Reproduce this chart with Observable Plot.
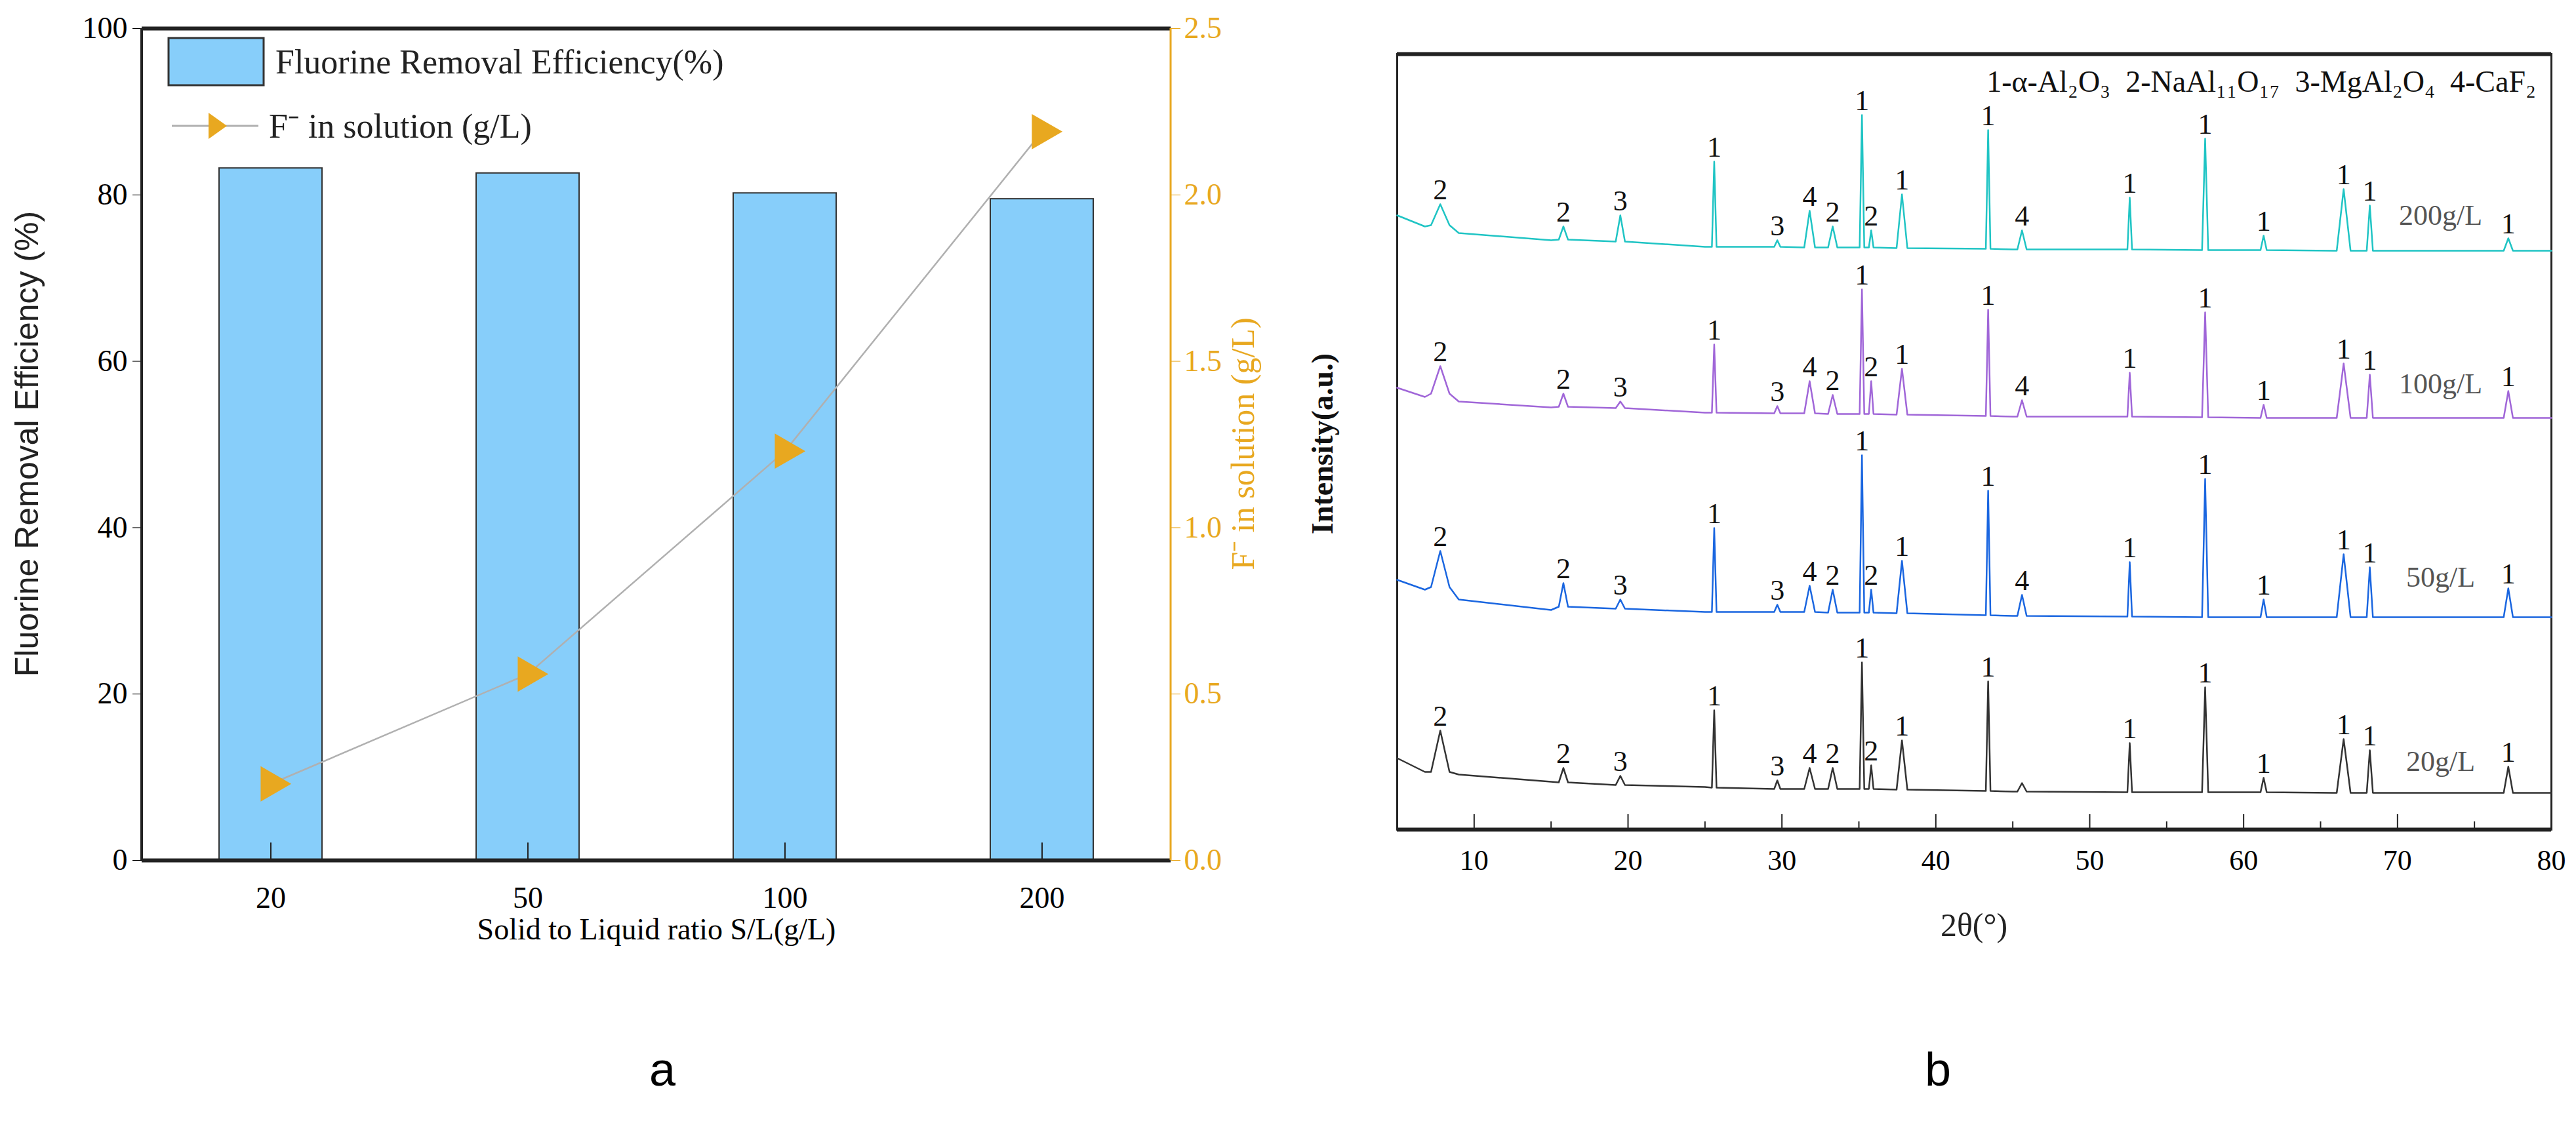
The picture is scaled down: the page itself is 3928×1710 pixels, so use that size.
<!DOCTYPE html>
<html><head><meta charset="utf-8">
<script src="https://cdn.jsdelivr.net/npm/d3@7"></script>
<script src="https://cdn.jsdelivr.net/npm/@observablehq/plot@0.6"></script>
<style>
body{margin:0;background:#fff;width:3928px;height:1710px;position:relative;overflow:hidden;font-family:"Liberation Serif",serif}
.pan{position:absolute;top:0}
.lab{position:absolute;font-family:"Liberation Sans",Arial,sans-serif;font-size:72px}
</style></head><body>
<div id="a" class="pan" style="left:0"></div>
<div id="b" class="pan" style="left:1960px"></div>
<div class="lab" style="left:990px;top:1590px">a</div>
<div class="lab" style="left:2935px;top:1590px">b</div>
<script>
// ---- Panel a data
const ratios = ["20","50","100","200"];
const efficiency = [83.2, 82.6, 80.2, 79.5];
const fluoride = [0.23, 0.56, 1.23, 2.19];
const leftTicks = [0,20,40,60,80,100];
const rightTicks = [0,0.5,1.0,1.5,2.0,2.5];
const orange = "#e8a820";
const K = 40; // right-axis factor 2.5 -> 100

const barsData = ratios.map((r,i)=>({r, v:efficiency[i]}));
const lineData = ratios.map((r,i)=>({r, v:fluoride[i]*K}));
const serif = "Liberation Serif";

const pa = Plot.plot({
  width:1960, height:1480, marginLeft:216, marginRight:175, marginTop:43, marginBottom:168,
  style:{fontFamily:serif, fontSize:"46px", background:"#fff"},
  x:{domain:ratios, type:"band", paddingInner:0.6, paddingOuter:0.3, axis:null},
  y:{domain:[0,100], axis:null},
  marks:[
    Plot.barY(barsData,{x:"r", y:"v", fill:"#87cefa", stroke:"#333", strokeWidth:2}),
    Plot.ruleX(ratios,{x:d=>d, y1:0, y2:2.1, stroke:"#222", strokeWidth:2}),
    Plot.axisX({ticks:ratios, tickSize:0, tickPadding:40, fontSize:46, label:"Solid to Liquid ratio S/L(g/L)", labelAnchor:"center", labelOffset:120}),
    Plot.axisY({ticks:leftTicks, tickSize:14, tickWidth:3, tickPadding:8, fontSize:46, label:null}),
    Plot.axisY({anchor:"right", ticks:rightTicks.map(t=>t*K), tickFormat:d=>(d/K).toFixed(1), tickSize:14, tickPadding:6, fontSize:46, color:orange, stroke:orange, label:null}),
    Plot.ruleY([0],{stroke:"#222", strokeWidth:6}),
    Plot.ruleY([100],{stroke:"#222", strokeWidth:6}),
    Plot.line(lineData,{x:"r", y:"v", stroke:"#b0b0b0", strokeWidth:2.5}),
    Plot.dot(lineData,{x:"r", y:"v", symbol:"triangle", r:20, fill:orange, stroke:"none", rotate:90})
  ]
});
document.getElementById("a").appendChild(pa);
{
  const s = d3.select(pa);
  s.append("line").attr("x1",216).attr("x2",216).attr("y1",43).attr("y2",1312).attr("stroke","#222").attr("stroke-width",4);
  s.append("line").attr("x1",1785).attr("x2",1785).attr("y1",43).attr("y2",1312).attr("stroke",orange).attr("stroke-width",3);
  s.append("text").attr("transform","translate(58,677) rotate(-90)").attr("text-anchor","middle")
    .attr("font-family","Liberation Sans").attr("font-size",50).attr("fill","#222").text("Fluorine Removal Efficiency (%)");
  s.append("text").attr("transform","translate(1912,677) rotate(-90)").attr("text-anchor","middle")
    .attr("font-family",serif).attr("font-size",50).attr("fill",orange).text("F⁻ in solution (g/L)");
  s.append("rect").attr("x",257).attr("y",58).attr("width",145).attr("height",72).attr("fill","#87cefa").attr("stroke","#333").attr("stroke-width",3);
  s.append("text").attr("x",420).attr("y",112).attr("text-anchor","start").attr("font-family",serif).attr("font-size",52).attr("fill","#222").text("Fluorine Removal Efficiency(%)");
  s.append("line").attr("x1",262).attr("x2",394).attr("y1",192).attr("y2",192).attr("stroke","#b0b0b0").attr("stroke-width",3);
  s.append("path").attr("d","M318,172 L346,192 L318,212 Z").attr("fill",orange);
  s.append("text").attr("x",410).attr("y",210).attr("text-anchor","start").attr("font-family",serif).attr("font-size",52).attr("fill","#222").text("F⁻ in solution (g/L)");
}

// ---- Panel b data (intensity in arbitrary units)
const peakPos   = [7.8,15.8,19.5,25.6,29.7,31.8,33.3,35.2,35.8,37.8,43.4,45.6,52.6,57.5,61.3,66.5,68.2,77.2];
const peakWidth = [0.6,0.3,0.3,0.15,0.2,0.35,0.3,0.15,0.15,0.35,0.15,0.3,0.15,0.2,0.2,0.45,0.2,0.3];
const peakLabels= ["2","2","3","1","3","4","2","1","2","1","1","4","1","1","1","1","1","1"];
const anchorPos = [5,6.8,9,15,25,45,80];

const top20 = [151,94,82,182,75,94,94,255,98,136,226,71,132,217,79,138,121,96];
const foot20= [88,72,68,64,62,62,62,62,62,61,59,58,57,57,57,56,56,56];
const base20= [109,88,84,73,65,58,56];
const top50 = [425,376,351,460,343,372,366,571,366,410,517,358,408,535,351,420,400,368];
const foot50= [370,340,337,332,332,332,331,331,331,330,327,326,325,324,324,324,324,324];
const base50= [381,366,351,335,332,326,324];
const top100= [707,665,653,740,646,684,663,824,684,703,793,655,697,789,648,711,694,669];
const foot100=[665,645,643,636,635,635,634,634,634,633,631,630,630,629,628,628,628,628];
const base100=[674,660,653,644,636,630,628];
const top200= [954,920,937,1019,899,944,920,1090,914,969,1067,914,964,1054,906,977,952,902];
const foot200=[922,900,897,889,889,888,888,888,888,887,886,885,885,884,884,883,883,883];
const base200=[937,920,910,899,889,885,883];

const series = [
  {name:"20g/L", color:"#333333", top:top20, foot:foot20, base:base20, show:peakLabels.map((l,i)=>i!==11), labelY:104},
  {name:"50g/L", color:"#1a66e0", top:top50, foot:foot50, base:base50, show:peakLabels.map(()=>true), labelY:385},
  {name:"100g/L", color:"#a066d8", top:top100, foot:foot100, base:base100, show:peakLabels.map(()=>true), labelY:680},
  {name:"200g/L", color:"#1fc4c4", top:top200, foot:foot200, base:base200, show:peakLabels.map(()=>true), labelY:937}
];
const pts = [], labs = [];
series.forEach(s=>{
  anchorPos.forEach((x,i)=>pts.push({s:s.name, x, y:s.base[i]}));
  peakPos.forEach((x,i)=>{
    pts.push({s:s.name, x:x-peakWidth[i], y:s.foot[i]});
    pts.push({s:s.name, x, y:s.top[i]});
    pts.push({s:s.name, x:x+peakWidth[i], y:s.foot[i]});
    if (s.show[i]) labs.push({x, y:s.top[i], t:peakLabels[i]});
  });
});
pts.sort((a,b)=>a.x-b.x);
const xTicks = [10,20,30,40,50,60,70,80];
const xMinor = [15,25,35,45,55,65,75];

const pb = Plot.plot({
  width:1968, height:1480, marginLeft:170, marginRight:38, marginTop:82, marginBottom:215,
  style:{fontFamily:serif, fontSize:"44px", background:"#fff"},
  x:{domain:[5,80], axis:null}, y:{domain:[0,1183], axis:null},
  marks:[
    Plot.frame({stroke:"#222", strokeWidth:3}),
    Plot.ruleY([1183],{stroke:"#222", strokeWidth:6}),
    Plot.ruleY([0],{stroke:"#222", strokeWidth:6}),
    ...series.map(s=>Plot.line(pts.filter(p=>p.s===s.name),{x:"x", y:"y", stroke:s.color, strokeWidth:2.5})),
    Plot.text(labs,{x:"x", y:"y", text:"t", dy:-8, lineAnchor:"bottom", fontSize:44, fill:"#111"}),
    Plot.text(series,{x:72.8, y:"labelY", text:"name", fontSize:44, fill:"#555"}),
    Plot.ruleX(xTicks,{y1:0, y2:23, stroke:"#222", strokeWidth:2}),
    Plot.ruleX(xMinor,{y1:0, y2:12, stroke:"#222", strokeWidth:2}),
    Plot.axisX({ticks:xTicks, tickSize:0, tickPadding:30, fontSize:44, label:null}),
    Plot.text(["1-α-Al₂O₃  2-NaAl₁₁O₁₇  3-MgAl₂O₄  4-CaF₂"],{x:79, y:1140, text:d=>d, textAnchor:"end", fontSize:46, fill:"#111"})
  ]
});
document.getElementById("b").appendChild(pb);
{
  const s = d3.select(pb);
  s.append("text").attr("transform","translate(72,677) rotate(-90)").attr("text-anchor","middle")
    .attr("font-family",serif).attr("font-weight","bold").attr("font-size",46).attr("fill","#111").text("Intensity(a.u.)");
  s.append("text").attr("x",(170+1930)/2).attr("y",1428).attr("text-anchor","middle")
    .attr("font-family",serif).attr("font-size",50).attr("fill","#222").text("2θ(°)");
}
</script></body></html>
